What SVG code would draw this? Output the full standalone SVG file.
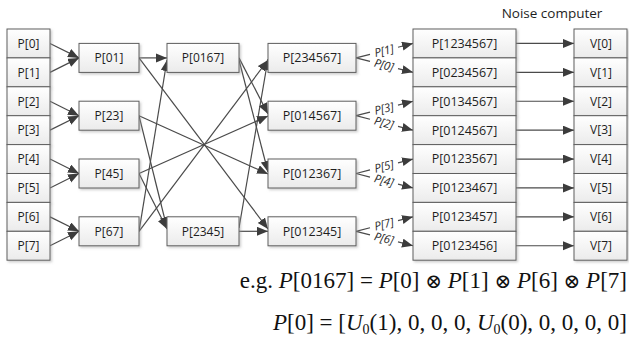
<svg xmlns="http://www.w3.org/2000/svg" width="629" height="338" viewBox="0 0 629 338">
<defs>
<linearGradient id="g" x1="0" y1="0" x2="0" y2="1"><stop offset="0" stop-color="#ffffff"/><stop offset="1" stop-color="#ebebeb"/></linearGradient>
<filter id="sh" x="-10%" y="-10%" width="130%" height="140%"><feDropShadow dx="1.5" dy="1.5" stdDeviation="0.8" flood-color="#9a9a9a" flood-opacity="0.5"/></filter>
<marker id="ah" markerUnits="userSpaceOnUse" markerWidth="12" markerHeight="10" refX="11" refY="4.5" orient="auto"><path d="M0,0 L11,4.5 L0,9 Z" fill="#3c3c3c"/></marker>
<style>
.box{fill:url(#g);stroke:#5e5e5e;stroke-width:1;filter:url(#sh)}
.t{font-family:"Open Sans","DejaVu Sans",sans-serif;font-size:12px;fill:#1e1e1e;text-anchor:middle}
.t5{font-size:12.5px}
.ln{stroke:#4a4a4a;stroke-width:1.2;fill:none}
.ar{marker-end:url(#ah)}
.fl{font-family:"Open Sans","DejaVu Sans",sans-serif;font-size:11.5px;font-style:italic;fill:#2a2a2a;text-anchor:middle}
.m{font-family:"Liberation Serif","DejaVu Serif",serif;font-size:23px;fill:#111;text-anchor:end}
.i{font-style:italic}
.ot{font-size:20px}
</style>
</defs>

<g id="connectors">
<line class="ln ar" x1="50" y1="43.45" x2="79" y2="57.9"/>
<line class="ln ar" x1="50" y1="72.35" x2="79" y2="57.9"/>
<line class="ln ar" x1="50" y1="101.25" x2="79" y2="115.7"/>
<line class="ln ar" x1="50" y1="130.15" x2="79" y2="115.7"/>
<line class="ln ar" x1="50" y1="159.05" x2="79" y2="173.5"/>
<line class="ln ar" x1="50" y1="187.95" x2="79" y2="173.5"/>
<line class="ln ar" x1="50" y1="216.85" x2="79" y2="231.3"/>
<line class="ln ar" x1="50" y1="245.75" x2="79" y2="231.3"/>
<line class="ln ar" x1="139" y1="57.9" x2="167" y2="57.9"/>
<line class="ln ar" x1="139" y1="231.3" x2="167" y2="60"/>
<line class="ln ar" x1="139" y1="115.7" x2="167" y2="228"/>
<line class="ln ar" x1="139" y1="173.5" x2="167" y2="229"/>
<line class="ln ar" x1="139" y1="231.3" x2="268" y2="60"/>
<line class="ln ar" x1="239" y1="228" x2="268" y2="59"/>
<line class="ln ar" x1="239" y1="57.9" x2="268" y2="114"/>
<line class="ln ar" x1="139" y1="173.5" x2="268" y2="116"/>
<line class="ln ar" x1="239" y1="60" x2="268" y2="172"/>
<line class="ln ar" x1="139" y1="115.7" x2="268" y2="174"/>
<line class="ln ar" x1="239" y1="231.3" x2="268" y2="231.3"/>
<line class="ln ar" x1="139" y1="57.9" x2="268" y2="229"/>
<g id="fork0">
<path class="ln" d="M356,57.9 L370,54.35 M356,57.9 L370,61.45"/>
<path class="ln ar" d="M398,47.25 L413,43.45"/>
<path class="ln ar" d="M398,68.55 L413,72.35"/>
<text class="fl" transform="translate(384,50.8) rotate(-14.2)" y="4">P[1]</text>
<text class="fl" transform="translate(384,65) rotate(14.2)" y="4">P[0]</text>
</g>
<g id="fork1">
<path class="ln" d="M356,115.7 L370,112.15 M356,115.7 L370,119.25"/>
<path class="ln ar" d="M398,105.05 L413,101.25"/>
<path class="ln ar" d="M398,126.35 L413,130.15"/>
<text class="fl" transform="translate(384,108.6) rotate(-14.2)" y="4">P[3]</text>
<text class="fl" transform="translate(384,122.8) rotate(14.2)" y="4">P[2]</text>
</g>
<g id="fork2">
<path class="ln" d="M356,173.5 L370,169.95 M356,173.5 L370,177.05"/>
<path class="ln ar" d="M398,162.85 L413,159.05"/>
<path class="ln ar" d="M398,184.15 L413,187.95"/>
<text class="fl" transform="translate(384,166.4) rotate(-14.2)" y="4">P[5]</text>
<text class="fl" transform="translate(384,180.6) rotate(14.2)" y="4">P[4]</text>
</g>
<g id="fork3">
<path class="ln" d="M356,231.3 L370,227.75 M356,231.3 L370,234.85"/>
<path class="ln ar" d="M398,220.65 L413,216.85"/>
<path class="ln ar" d="M398,241.95 L413,245.75"/>
<text class="fl" transform="translate(384,224.2) rotate(-14.2)" y="4">P[7]</text>
<text class="fl" transform="translate(384,238.4) rotate(14.2)" y="4">P[6]</text>
</g>
<line class="ln ar" x1="516" y1="43.45" x2="574" y2="43.45"/>
<line class="ln ar" x1="516" y1="72.35" x2="574" y2="72.35"/>
<line class="ln ar" x1="516" y1="101.25" x2="574" y2="101.25"/>
<line class="ln ar" x1="516" y1="130.15" x2="574" y2="130.15"/>
<line class="ln ar" x1="516" y1="159.05" x2="574" y2="159.05"/>
<line class="ln ar" x1="516" y1="187.95" x2="574" y2="187.95"/>
<line class="ln ar" x1="516" y1="216.85" x2="574" y2="216.85"/>
<line class="ln ar" x1="516" y1="245.75" x2="574" y2="245.75"/>
</g>

<g id="p0"><rect class="box" x="7" y="29" width="43" height="28.9"/><text class="t" x="28.5" y="47.75">P[0]</text></g>
<g id="p1"><rect class="box" x="7" y="57.9" width="43" height="28.9"/><text class="t" x="28.5" y="76.65">P[1]</text></g>
<g id="p2"><rect class="box" x="7" y="86.8" width="43" height="28.9"/><text class="t" x="28.5" y="105.55">P[2]</text></g>
<g id="p3"><rect class="box" x="7" y="115.7" width="43" height="28.9"/><text class="t" x="28.5" y="134.45">P[3]</text></g>
<g id="p4"><rect class="box" x="7" y="144.6" width="43" height="28.9"/><text class="t" x="28.5" y="163.35">P[4]</text></g>
<g id="p5"><rect class="box" x="7" y="173.5" width="43" height="28.9"/><text class="t" x="28.5" y="192.25">P[5]</text></g>
<g id="p6"><rect class="box" x="7" y="202.4" width="43" height="28.9"/><text class="t" x="28.5" y="221.15">P[6]</text></g>
<g id="p7"><rect class="box" x="7" y="231.3" width="43" height="28.9"/><text class="t" x="28.5" y="250.05">P[7]</text></g>

<g id="p01"><rect class="box" x="79" y="43.4" width="60" height="29"/><text class="t" x="109" y="62.2">P[01]</text></g>
<g id="p23"><rect class="box" x="79" y="101.2" width="60" height="29"/><text class="t" x="109" y="120">P[23]</text></g>
<g id="p45"><rect class="box" x="79" y="159" width="60" height="29"/><text class="t" x="109" y="177.8">P[45]</text></g>
<g id="p67"><rect class="box" x="79" y="216.8" width="60" height="29"/><text class="t" x="109" y="235.6">P[67]</text></g>

<g id="p0167"><rect class="box" x="167" y="43.4" width="72" height="29"/><text class="t" x="203" y="62.2">P[0167]</text></g>
<g id="p2345"><rect class="box" x="167" y="216.8" width="72" height="29"/><text class="t" x="203" y="235.6">P[2345]</text></g>

<g id="p234567"><rect class="box" x="268" y="43.4" width="88" height="29"/><text class="t t5" x="312" y="62.3">P[234567]</text></g>
<g id="p014567"><rect class="box" x="268" y="101.2" width="88" height="29"/><text class="t t5" x="312" y="120.1">P[014567]</text></g>
<g id="p012367"><rect class="box" x="268" y="159" width="88" height="29"/><text class="t t5" x="312" y="177.9">P[012367]</text></g>
<g id="p012345"><rect class="box" x="268" y="216.8" width="88" height="29"/><text class="t t5" x="312" y="235.7">P[012345]</text></g>

<g id="p1234567"><rect class="box" x="413" y="29" width="103" height="28.9"/><text class="t t5" x="464.5" y="47.85">P[1234567]</text></g>
<g id="p0234567"><rect class="box" x="413" y="57.9" width="103" height="28.9"/><text class="t t5" x="464.5" y="76.75">P[0234567]</text></g>
<g id="p0134567"><rect class="box" x="413" y="86.8" width="103" height="28.9"/><text class="t t5" x="464.5" y="105.65">P[0134567]</text></g>
<g id="p0124567"><rect class="box" x="413" y="115.7" width="103" height="28.9"/><text class="t t5" x="464.5" y="134.55">P[0124567]</text></g>
<g id="p0123567"><rect class="box" x="413" y="144.6" width="103" height="28.9"/><text class="t t5" x="464.5" y="163.45">P[0123567]</text></g>
<g id="p0123467"><rect class="box" x="413" y="173.5" width="103" height="28.9"/><text class="t t5" x="464.5" y="192.35">P[0123467]</text></g>
<g id="p0123457"><rect class="box" x="413" y="202.4" width="103" height="28.9"/><text class="t t5" x="464.5" y="221.25">P[0123457]</text></g>
<g id="p0123456"><rect class="box" x="413" y="231.3" width="103" height="28.9"/><text class="t t5" x="464.5" y="250.15">P[0123456]</text></g>

<text class="t" x="552" y="18" style="font-size:13.5px">Noise computer</text>
<g id="v0"><rect class="box" x="574" y="29" width="53" height="28.9"/><text class="t" x="601" y="47.75">V[0]</text></g>
<g id="v1"><rect class="box" x="574" y="57.9" width="53" height="28.9"/><text class="t" x="601" y="76.65">V[1]</text></g>
<g id="v2"><rect class="box" x="574" y="86.8" width="53" height="28.9"/><text class="t" x="601" y="105.55">V[2]</text></g>
<g id="v3"><rect class="box" x="574" y="115.7" width="53" height="28.9"/><text class="t" x="601" y="134.45">V[3]</text></g>
<g id="v4"><rect class="box" x="574" y="144.6" width="53" height="28.9"/><text class="t" x="601" y="163.35">V[4]</text></g>
<g id="v5"><rect class="box" x="574" y="173.5" width="53" height="28.9"/><text class="t" x="601" y="192.25">V[5]</text></g>
<g id="v6"><rect class="box" x="574" y="202.4" width="53" height="28.9"/><text class="t" x="601" y="221.15">V[6]</text></g>
<g id="v7"><rect class="box" x="574" y="231.3" width="53" height="28.9"/><text class="t" x="601" y="250.05">V[7]</text></g>

<text class="m" x="627" y="288">e.g. <tspan class="i">P</tspan>[0167] = <tspan class="i">P</tspan>[0] <tspan class="ot">⊗</tspan> <tspan class="i">P</tspan>[1] <tspan class="ot">⊗</tspan> <tspan class="i">P</tspan>[6] <tspan class="ot">⊗</tspan> <tspan class="i">P</tspan>[7]</text>
<text class="m" x="627" y="330"><tspan class="i">P</tspan>[0] = [<tspan class="i">U</tspan><tspan font-size="14" dy="4">0</tspan><tspan dy="-4">(1), 0, 0, 0, </tspan><tspan class="i">U</tspan><tspan font-size="14" dy="4">0</tspan><tspan dy="-4">(0), 0, 0, 0, 0]</tspan></text>
</svg>
